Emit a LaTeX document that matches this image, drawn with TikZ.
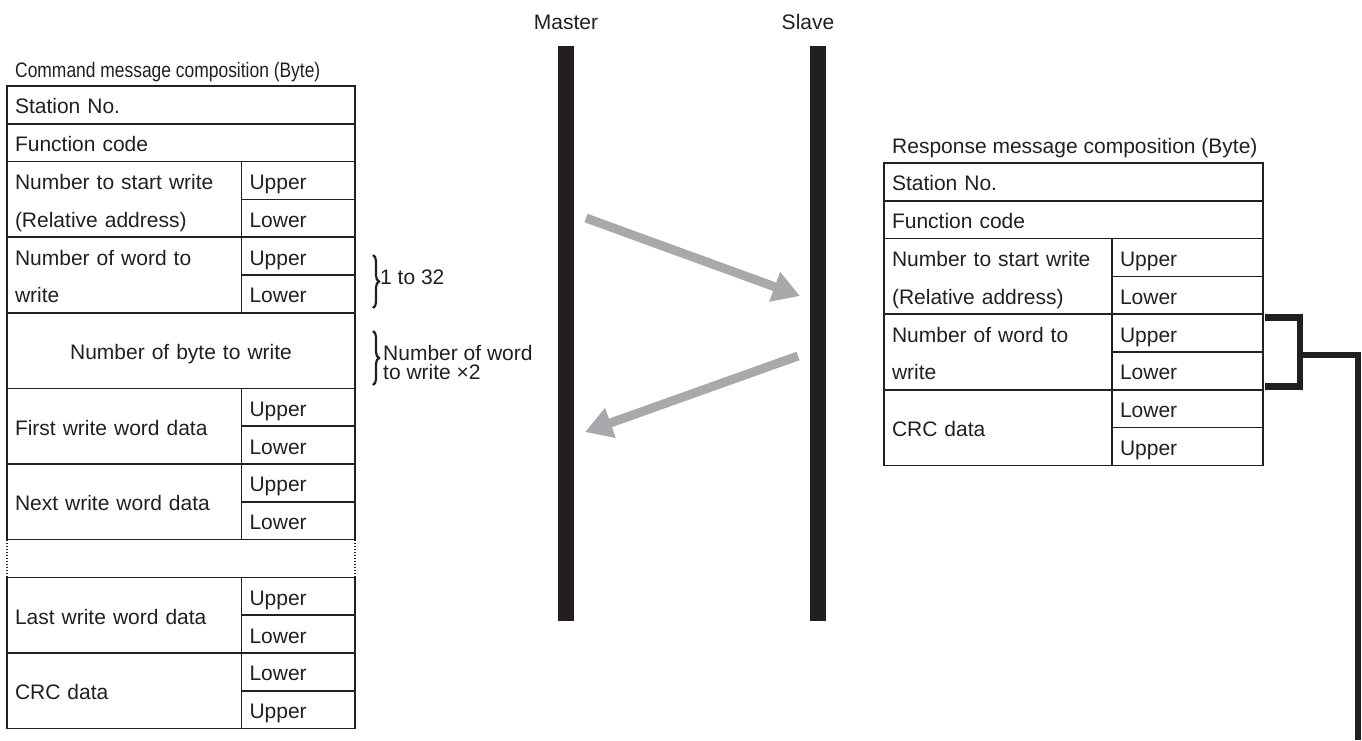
\documentclass[tikz,border=0pt]{standalone}
\usepackage{fontspec}
\setmainfont{Liberation Sans}
\usepackage{graphicx}
\usepackage{xcolor}
\usetikzlibrary{arrows.meta, calc, positioning, decorations.pathreplacing}
\definecolor{linedark}{HTML}{231F20}
\definecolor{arrowgray}{HTML}{A7A9AC}
\newcommand{\cellfont}{\fontsize{21}{37.8}\selectfont}

\begin{document}
\begin{tikzpicture}[
  x=1pt, y=-1pt,
  every node/.style={text=linedark},
  cell/.style={draw=linedark, line width=1.6pt, outer sep=0pt,
               inner xsep=8pt, inner ysep=0pt, minimum height=37.8pt,
               text height=18pt, text depth=0pt, align=left, font=\cellfont},
  twoline/.style={text depth=37.8pt},
  lfull/.style={cell, text width=332pt},
  llab/.style={cell, text width=218.5pt, minimum height=75.6pt},
  lval/.style={cell, text width=97.5pt},
  rfull/.style={cell, text width=363pt},
  rlab/.style={cell, text width=212pt, minimum height=75.6pt},
  rval/.style={cell, text width=135pt},
  lbl/.style={inner sep=0pt, font=\fontsize{21}{25}\selectfont},
  note/.style={inner sep=0pt, align=left, font=\fontsize{21}{19}\selectfont},
  bar/.style={fill=linedark, minimum width=16pt, minimum height=575pt,
              inner sep=0pt, outer sep=0pt},
  msg/.style={draw=arrowgray, line width=9pt,
              -{Triangle[length=27pt, width=30pt]}},
  bracket/.style={draw=linedark, line width=6.7pt},
  bracenote/.style={decorate, decoration={brace, amplitude=6pt},
                    draw=linedark, line width=2.2pt},
  gapside/.style={draw=linedark, line width=1.3pt, dash pattern=on 1.2pt off 1.8pt}
]
\useasboundingbox (0,0) rectangle (1362,740);

% ---------------- Command message ----------------
\node[lfull, anchor=north west] (lStation) at (7,86) {Station No.};
\node[lbl, anchor=base west] (cmdTitle) at ($(lStation.north west)+(8,-9)$)
  {\scalebox{0.83}[1]{Command message composition (Byte)}};
\node[lfull, below=0pt of lStation] (lFunc) {Function code};

\node[llab, twoline, anchor=north west] (lStart) at (lFunc.south west)
  {Number to start write\\(Relative address)};
\node[lval, anchor=north west] (lStartU) at (lStart.north east) {Upper};
\node[lval, below=0pt of lStartU] (lStartL) {Lower};

\node[llab, twoline, anchor=north west] (lWord) at (lStart.south west)
  {Number of word to\\write};
\node[lval, anchor=north west] (lWordU) at (lWord.north east) {Upper};
\node[lval, below=0pt of lWordU] (lWordL) {Lower};

\node[lfull, align=center, minimum height=75.6pt, anchor=north west] (lByte)
  at (lWord.south west) {Number of byte to write};

\node[llab, anchor=north west] (lFirst) at (lByte.south west) {First write word data};
\node[lval, anchor=north west] (lFirstU) at (lFirst.north east) {Upper};
\node[lval, below=0pt of lFirstU] (lFirstL) {Lower};

\node[llab, anchor=north west] (lNext) at (lFirst.south west) {Next write word data};
\node[lval, anchor=north west] (lNextU) at (lNext.north east) {Upper};
\node[lval, below=0pt of lNextU] (lNextL) {Lower};

\node[lfull, draw=none, anchor=north west] (lGap) at (lNext.south west) {};

\node[llab, anchor=north west] (lLast) at (lGap.south west) {Last write word data};
\node[lval, anchor=north west] (lLastU) at (lLast.north east) {Upper};
\node[lval, below=0pt of lLastU] (lLastL) {Lower};

\node[llab, anchor=north west] (lCRC) at (lLast.south west) {CRC data};
\node[lval, anchor=north west] (lCRCL) at (lCRC.north east) {Lower};
\node[lval, below=0pt of lCRCL] (lCRCU) {Upper};

% dotted sides of the omitted rows
\draw[gapside] (lGap.north west) -- (lGap.south west);
\draw[gapside] (lGap.north east) -- (lGap.south east);

% ---------------- Notes ----------------
\draw[bracenote] (373,255) -- (373,308);
\node[lbl, anchor=west] (rangeNote) at (380,277) {1 to 32};
\draw[bracenote] (373,331) -- (373,385);
\node[note, anchor=west] (byteNote) at (383,362.5) {Number of word\\to write ×2};

% ---------------- Master / Slave ----------------
\node[bar] (master) at (566,333.5) {};
\node[bar] (slave)  at (818,333.5) {};
\node[lbl, above=16pt of master] (masterLbl) {Master};
\node[lbl, above=16pt of slave, xshift=-10pt] (slaveLbl) {Slave};

\coordinate (reqStart) at (586,218);
\coordinate (reqEnd)   at (800,296);
\coordinate (rspStart) at (798,356);
\coordinate (rspEnd)   at (585,432);
\draw[msg] (reqStart) -- (reqEnd);
\draw[msg] (rspStart) -- (rspEnd);

% ---------------- Response message ----------------
\node[rfull, anchor=north west] (rStation) at (884,163) {Station No.};
\node[lbl, anchor=base west] (rspTitle) at ($(rStation.north west)+(8,-10)$)
  {Response message composition (Byte)};
\node[rfull, below=0pt of rStation] (rFunc) {Function code};

\node[rlab, twoline, anchor=north west] (rStart) at (rFunc.south west)
  {Number to start write\\(Relative address)};
\node[rval, anchor=north west] (rStartU) at (rStart.north east) {Upper};
\node[rval, below=0pt of rStartU] (rStartL) {Lower};

\node[rlab, twoline, anchor=north west] (rWord) at (rStart.south west)
  {Number of word to\\write};
\node[rval, anchor=north west] (rWordU) at (rWord.north east) {Upper};
\node[rval, below=0pt of rWordU] (rWordL) {Lower};

\node[rlab, anchor=north west] (rCRC) at (rWord.south west) {CRC data};
\node[rval, anchor=north west] (rCRCL) at (rCRC.north east) {Lower};
\node[rval, below=0pt of rCRCL] (rCRCU) {Upper};

% bracket round the word count
\coordinate (brTop) at ($(rWordU.north east)+(2,3.5)$);
\coordinate (brBot) at ($(rWordL.south east)+(2,-3.5)$);
\coordinate (brMid) at (1300,355);
\coordinate (brOut) at (1358,740);
\draw[bracket] (brTop) -- (brTop -| brMid) |- (brBot);
\draw[bracket] (brMid) -| (brOut);

\end{tikzpicture}
\end{document}
